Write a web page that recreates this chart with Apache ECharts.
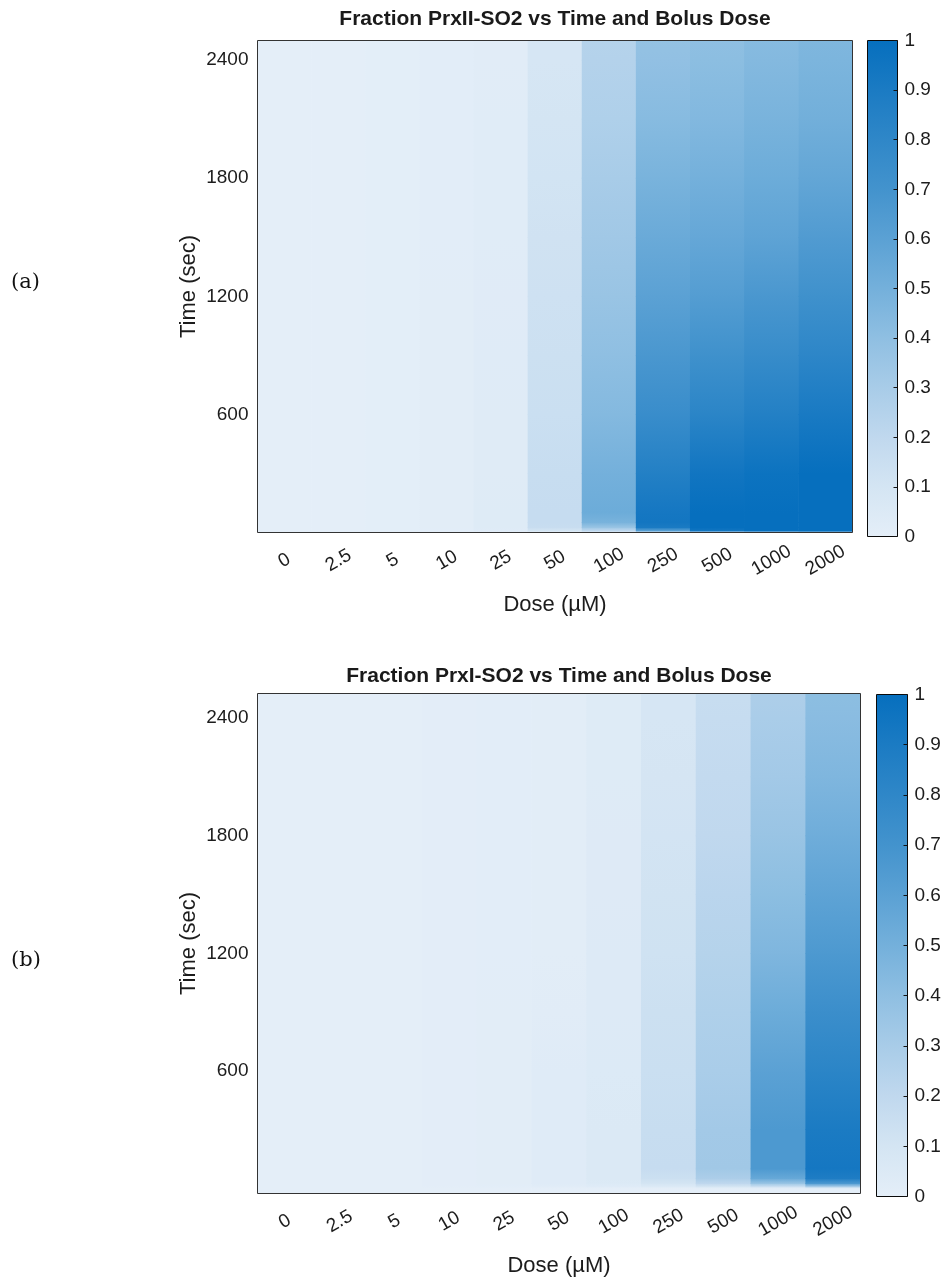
<!DOCTYPE html>
<html>
<head>
<meta charset="utf-8">
<script src="https://cdn.jsdelivr.net/npm/echarts@6/dist/echarts.min.js"></script>
<style>
  html, body { margin: 0; padding: 0; background: #ffffff; }
  #main { width: 945px; height: 1279px; }
</style>
</head>
<body>
<div id="main"></div>
<script>
// Bolus doses (µM), one column each
const doses = ['0', '2.5', '5', '10', '25', '50', '100', '250', '500', '1000', '2000'];

// Sample times (sec) at which the sulfinylated fraction is given
const timePoints = [0, 10, 25, 50, 100, 300, 600, 900, 1200, 1500, 1800, 2100, 2400, 2500];

// Axis ticks
const timeTicks = [600, 1200, 1800, 2400];
const colorbarTickStep = 0.1;

// Colour scale, from 0 to 1
const colorScale = ['#e4eef8', '#d4e5f3', '#c0d8ee', '#a8cce8', '#8fbfe2', '#74b0db',
                    '#5ba1d4', '#4393cd', '#2f87c8', '#1b7bc3', '#066fbe'];

// Fraction PrxII-SO2, one row per dose, one value per sample time
const prxIISO2 = [
  [0.00, 0.00, 0.00, 0.00, 0.00, 0.00, 0.00, 0.00, 0.00, 0.00, 0.00, 0.00, 0.00, 0.00],
  [0.00, 0.00, 0.00, 0.00, 0.00, 0.00, 0.00, 0.00, 0.00, 0.00, 0.00, 0.00, 0.00, 0.00],
  [0.00, 0.005, 0.005, 0.005, 0.005, 0.005, 0.005, 0.005, 0.005, 0.005, 0.005, 0.005, 0.005, 0.005],
  [0.00, 0.01, 0.012, 0.012, 0.012, 0.012, 0.012, 0.011, 0.011, 0.01, 0.01, 0.01, 0.01, 0.01],
  [0.00, 0.03, 0.035, 0.035, 0.035, 0.033, 0.032, 0.03, 0.028, 0.026, 0.024, 0.022, 0.02, 0.02],
  [0.00, 0.10, 0.16, 0.17, 0.17, 0.165, 0.15, 0.14, 0.13, 0.12, 0.11, 0.10, 0.09, 0.09],
  [0.05, 0.20, 0.35, 0.48, 0.53, 0.50, 0.44, 0.40, 0.36, 0.33, 0.30, 0.27, 0.25, 0.245],
  [0.10, 0.60, 0.90, 0.94, 0.93, 0.86, 0.75, 0.67, 0.60, 0.54, 0.48, 0.43, 0.39, 0.38],
  [0.20, 0.95, 1.00, 1.00, 1.00, 0.95, 0.82, 0.72, 0.63, 0.56, 0.50, 0.45, 0.41, 0.40],
  [0.30, 1.00, 1.00, 1.00, 1.00, 0.97, 0.86, 0.76, 0.67, 0.59, 0.53, 0.48, 0.44, 0.43],
  [0.40, 1.00, 1.00, 1.00, 1.00, 1.00, 0.91, 0.81, 0.72, 0.64, 0.57, 0.51, 0.47, 0.46]
];

// Fraction PrxI-SO2, one row per dose, one value per sample time
const prxISO2 = [
  [0.00, 0.00, 0.00, 0.00, 0.00, 0.00, 0.00, 0.00, 0.00, 0.00, 0.00, 0.00, 0.00, 0.00],
  [0.00, 0.00, 0.00, 0.00, 0.00, 0.00, 0.00, 0.00, 0.00, 0.00, 0.00, 0.00, 0.00, 0.00],
  [0.00, 0.003, 0.003, 0.003, 0.003, 0.003, 0.003, 0.003, 0.003, 0.003, 0.003, 0.003, 0.003, 0.003],
  [0.00, 0.006, 0.006, 0.006, 0.006, 0.006, 0.006, 0.006, 0.006, 0.006, 0.006, 0.006, 0.006, 0.006],
  [0.00, 0.01, 0.012, 0.012, 0.012, 0.012, 0.012, 0.011, 0.01, 0.01, 0.01, 0.01, 0.01, 0.01],
  [0.00, 0.02, 0.03, 0.03, 0.03, 0.03, 0.03, 0.018, 0.015, 0.015, 0.015, 0.015, 0.015, 0.015],
  [0.00, 0.03, 0.05, 0.055, 0.055, 0.055, 0.05, 0.045, 0.042, 0.04, 0.04, 0.038, 0.035, 0.035],
  [0.00, 0.05, 0.10, 0.14, 0.17, 0.165, 0.15, 0.14, 0.125, 0.115, 0.105, 0.095, 0.09, 0.09],
  [0.00, 0.10, 0.20, 0.28, 0.33, 0.32, 0.29, 0.27, 0.245, 0.225, 0.20, 0.185, 0.17, 0.165],
  [0.00, 0.15, 0.35, 0.55, 0.66, 0.66, 0.60, 0.53, 0.46, 0.41, 0.36, 0.32, 0.29, 0.28],
  [0.00, 0.30, 0.65, 0.88, 0.93, 0.90, 0.82, 0.74, 0.66, 0.59, 0.52, 0.46, 0.42, 0.41]
];

const FONT = '"Liberation Sans", Arial, sans-serif';
const TEXT = '#1c1c1c';

function colorOf(v) {
  return echarts.color.lerp(Math.max(0, Math.min(1, v)), colorScale);
}

// One band per dose and time interval: [doseIndex, tStart, tEnd, vStart, vEnd].
// The first and last samples are held out to the ends of the time axis.
function toBands(matrix, tMin, tMax) {
  const out = [];
  const last = timePoints.length - 1;
  matrix.forEach(function (vals, i) {
    if (tMin < timePoints[0]) out.push([i, tMin, timePoints[0], vals[0], vals[0]]);
    for (let k = 0; k < last; k++) {
      out.push([i, timePoints[k], timePoints[k + 1], vals[k], vals[k + 1]]);
    }
    if (tMax > timePoints[last]) out.push([i, timePoints[last], tMax, vals[last], vals[last]]);
  });
  return out;
}

function renderBand(params, api) {
  const i = api.value(0);
  const lo = api.coord([i, api.value(1)]);
  const hi = api.coord([i, api.value(2)]);
  const w = api.size([1, 0])[0];
  return {
    type: 'rect',
    shape: { x: lo[0] - w / 2 - 0.3, y: hi[1] - 0.4, width: w + 0.6, height: lo[1] - hi[1] + 0.8 },
    style: {
      fill: new echarts.graphic.LinearGradient(0, 0, 0, 1, [
        { offset: 0, color: colorOf(api.value(4)) },
        { offset: 1, color: colorOf(api.value(3)) }
      ])
    }
  };
}

function renderColorbar(params, api) {
  const lo = api.coord([0, 0]);
  const hi = api.coord([1, 1]);
  const stops = colorScale.map(function (c, k) {
    return { offset: 1 - k / (colorScale.length - 1), color: c };
  }).reverse();
  return {
    type: 'rect',
    shape: { x: lo[0], y: hi[1], width: hi[0] - lo[0], height: lo[1] - hi[1] },
    style: { fill: new echarts.graphic.LinearGradient(0, 0, 0, 1, stops) }
  };
}

// Panel geometry: plot box, colour bar box and time axis extent
const panels = [
  { title: 'Fraction PrxII-SO2 vs Time and Bolus Dose', tag: '(a)', data: prxIISO2,
    tMin: 0, tMax: 2500,
    plot: { left: 257.5, top: 40.5, width: 595, height: 492 },
    bar: { left: 867.5, top: 40.5, width: 30, height: 496 }, titleTop: 9, tagY: 286 },
  { title: 'Fraction PrxI-SO2 vs Time and Bolus Dose', tag: '(b)', data: prxISO2,
    tMin: -26, tMax: 2526,
    plot: { left: 257.5, top: 693.5, width: 603, height: 500 },
    bar: { left: 876.5, top: 694.5, width: 31, height: 502 }, titleTop: 666, tagY: 964 }
];

const option = {
  backgroundColor: '#ffffff',
  animation: false,
  title: [], grid: [], xAxis: [], yAxis: [], series: [], graphic: []
};

panels.forEach(function (p, n) {
  const g = n * 2;
  option.title.push({
    text: p.title, left: Math.round(p.plot.left + p.plot.width / 2), top: p.titleTop,
    textAlign: 'center', padding: 0,
    textStyle: { fontFamily: FONT, fontSize: 21, fontWeight: 'bold', color: '#1a1a1a' }
  });
  option.grid.push(Object.assign({ show: true, borderColor: '#333333', borderWidth: 1, z: 10,
    backgroundColor: 'transparent', outerBoundsMode: 'none', containLabel: false }, p.plot));
  option.grid.push(Object.assign({ show: true, borderColor: '#0a0a0a', borderWidth: 1, z: 10,
    backgroundColor: 'transparent', outerBoundsMode: 'none', containLabel: false }, p.bar));

  option.xAxis.push({
    type: 'category', gridIndex: g, data: doses,
    axisLine: { show: false, onZero: false }, axisTick: { show: false }, splitLine: { show: false },
    axisLabel: { rotate: 30, align: 'center', verticalAlign: 'middle', margin: 28, interval: 0,
      fontFamily: FONT, fontSize: 19, color: TEXT },
    name: 'Dose (µM)', nameLocation: 'middle', nameGap: 61, nameMoveOverlap: false,
    nameTextStyle: { fontFamily: FONT, fontSize: 22, color: TEXT }
  });
  option.yAxis.push({
    type: 'value', gridIndex: g, min: p.tMin, max: p.tMax,
    axisLine: { show: false, onZero: false }, axisTick: { show: false }, splitLine: { show: false },
    axisLabel: { customValues: timeTicks, margin: 9, fontFamily: FONT, fontSize: 19, color: TEXT,
      formatter: function (v) { return String(v); } },
    name: 'Time (sec)', nameLocation: 'middle', nameGap: 58, nameMoveOverlap: false,
    nameTextStyle: { fontFamily: FONT, fontSize: 22, color: TEXT }
  });

  option.xAxis.push({ type: 'value', gridIndex: g + 1, min: 0, max: 1, show: false,
    axisLine: { onZero: false } });
  option.yAxis.push({
    type: 'value', gridIndex: g + 1, min: 0, max: 1, interval: colorbarTickStep, position: 'right',
    z: 20,
    axisLine: { show: false, onZero: false }, splitLine: { show: false },
    axisTick: { show: true, inside: true, length: 4, lineStyle: { color: '#111111', width: 1 } },
    axisLabel: { margin: 7, fontFamily: FONT, fontSize: 19, color: TEXT,
      formatter: function (v) { return String(+v.toFixed(1)); } }
  });

  option.series.push({
    type: 'custom', name: p.title, xAxisIndex: g, yAxisIndex: g, clip: true,
    renderItem: renderBand, data: toBands(p.data, p.tMin, p.tMax),
    encode: { x: 0, y: [1, 2] }, silent: true
  });
  option.series.push({
    type: 'custom', xAxisIndex: g + 1, yAxisIndex: g + 1, clip: true,
    renderItem: renderColorbar, data: [[0, 0, 1, 1]],
    encode: { x: [0, 2], y: [1, 3] }, silent: true
  });

  option.graphic.push({
    type: 'text', left: 11, top: p.tagY - 14,
    style: { text: p.tag, fontFamily: '"DejaVu Serif", "Liberation Serif", serif', fontSize: 21, fill: '#111111' }
  });
});

const chart = echarts.init(document.getElementById('main'), null, { renderer: 'canvas' });
chart.setOption(option);
</script>
</body>
</html>
